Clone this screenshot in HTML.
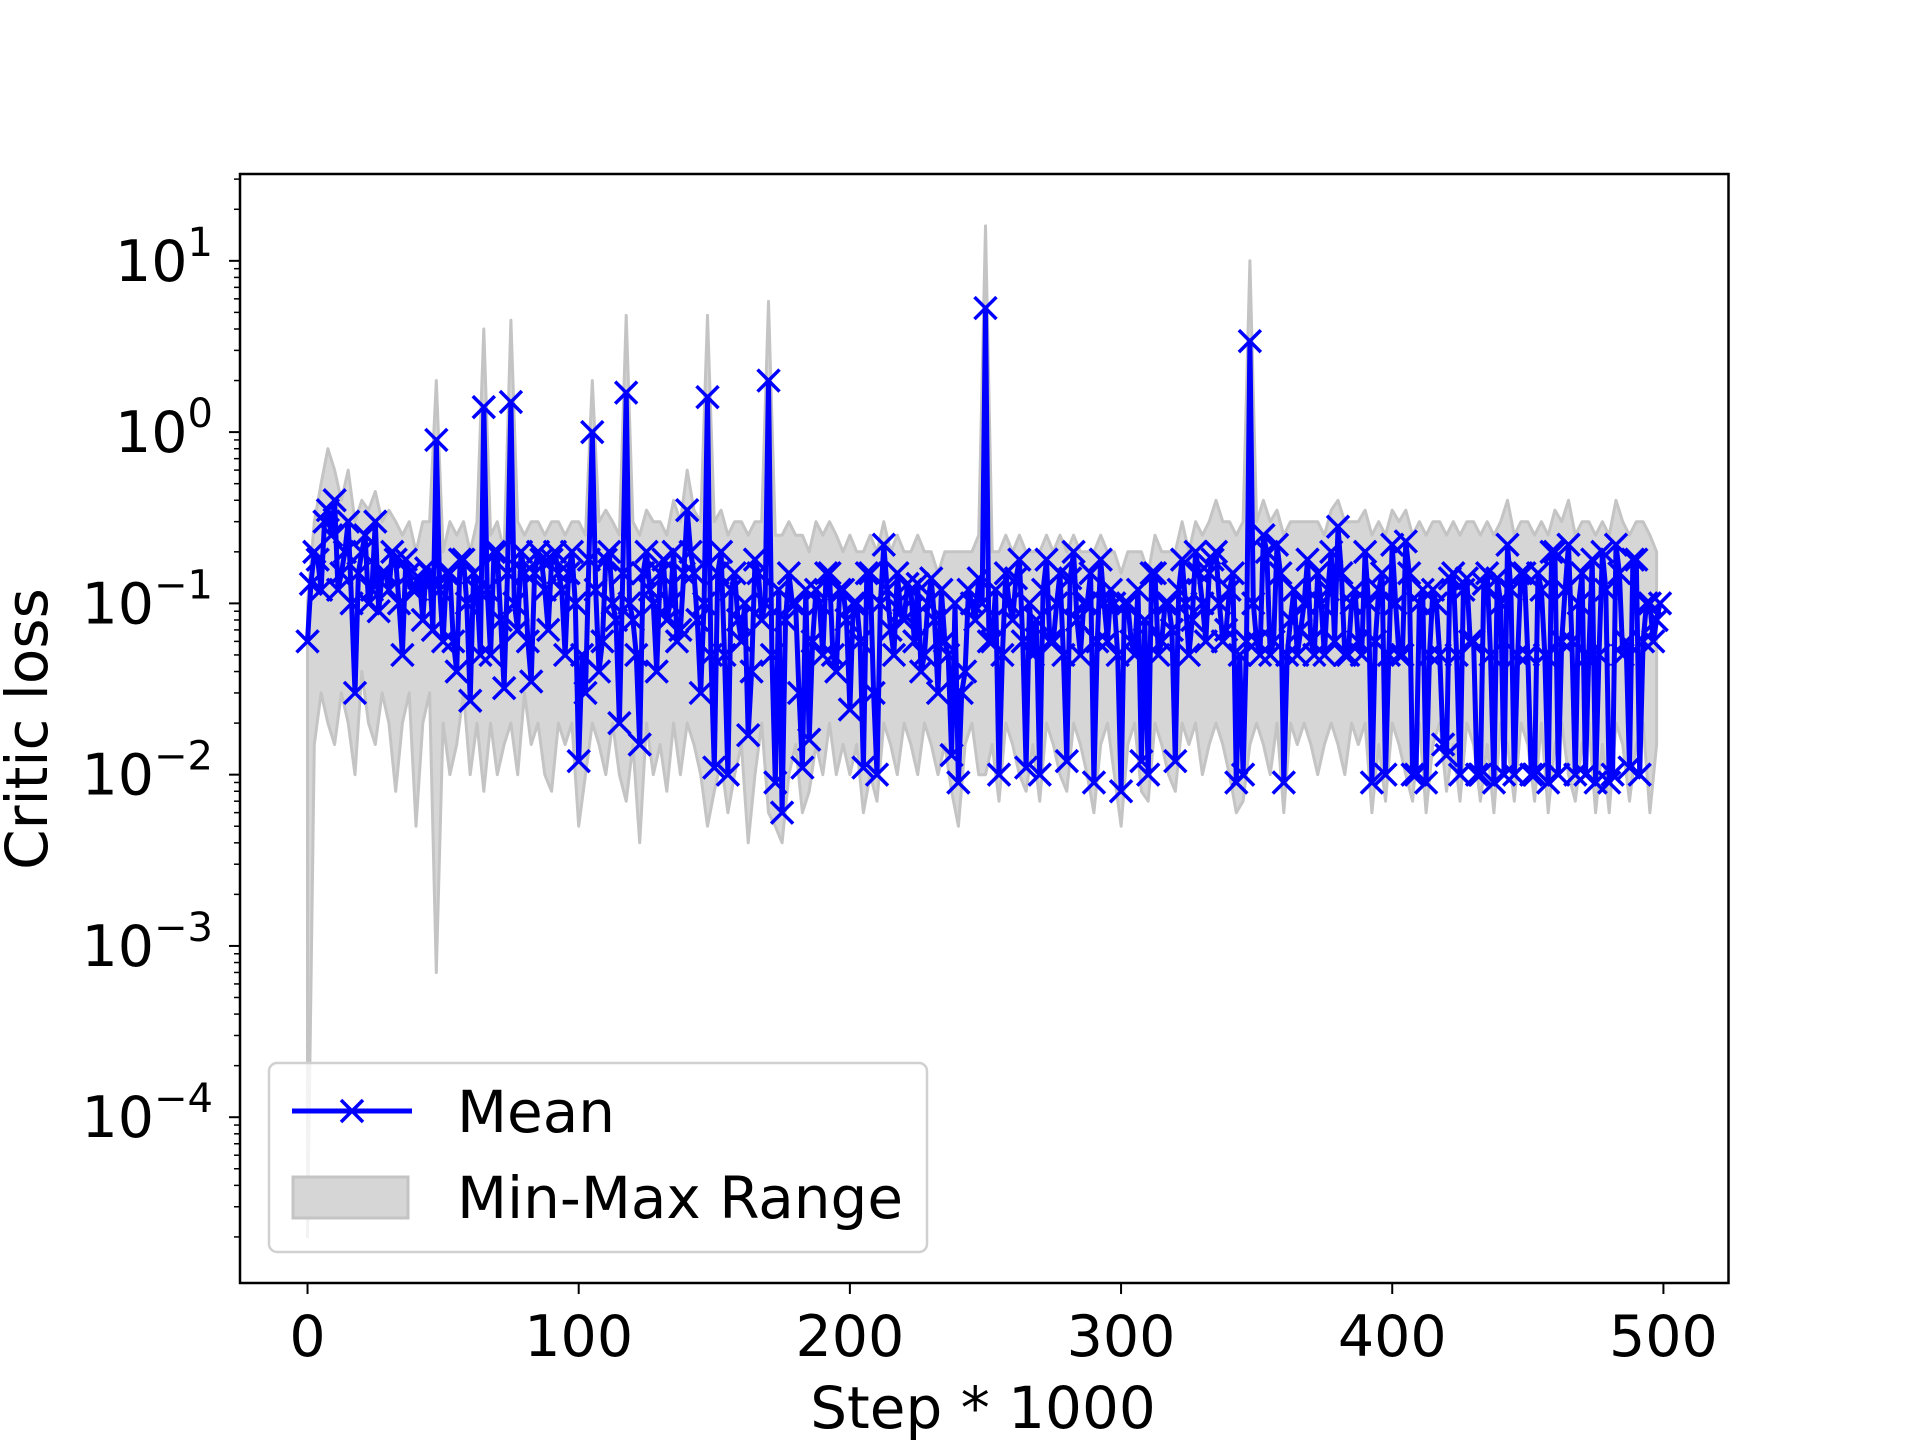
<!DOCTYPE html>
<html><head><meta charset="utf-8"><style>
html,body{margin:0;padding:0;background:#fff;}
svg{display:block;font-family:"DejaVu Sans","Liberation Sans",sans-serif;}
</style></head><body>
<svg id="chart" width="1920" height="1440" viewBox="0 0 1920 1440" xmlns="http://www.w3.org/2000/svg"></svg>
<script>
const meanVals=[0.06,0.2,0.12,0.35,0.4,0.15,0.3,0.03,0.2,0.1,0.3,0.15,0.12,0.18,0.05,0.15,
0.12,0.08,0.15,0.9,
0.06,0.15,0.04,0.18,0.027,0.12,1.4,0.05,0.2,0.032,
1.5,0.07,0.15,0.035,0.2,0.12,0.18,0.15,0.05,0.2,
0.012,0.03,1.0,0.04,0.18,0.1,0.02,1.7,0.08,0.015,
0.2,0.1,0.15,0.08,0.2,0.07,0.35,0.15,0.03,1.6,
0.011,0.2,0.01,0.15,0.06,0.017,0.18,0.08,2.0,0.009,
0.006,0.15,0.1,0.011,0.016,0.12,0.05,0.15,0.04,0.12,
0.024,0.1,0.011,0.15,0.01,0.22,0.07,0.15,0.08,0.12,
0.13,0.05,0.14,0.03,0.06,0.013,0.009,0.04,0.1,0.14,
5.3,0.06,0.01,0.15,0.08,0.18,0.011,0.05,0.01,0.18,
0.06,0.15,0.012,0.2,0.05,0.1,0.009,0.18,0.06,0.1,
0.008,0.1,0.05,0.012,0.01,0.15,0.06,0.1,0.012,0.18,
0.05,0.2,0.1,0.15,0.2,0.06,0.12,0.009,0.01,3.4,
0.06,0.25,0.05,0.22,0.009,0.08,0.05,0.1,0.06,0.15,
0.05,0.2,0.28,0.05,0.1,0.06,0.2,0.009,0.12,0.01,
0.22,0.05,0.23,0.01,0.1,0.009,0.12,0.05,0.013,0.15,
0.01,0.14,0.06,0.01,0.15,0.009,0.1,0.22,0.01,0.15,
0.05,0.01,0.12,0.009,0.2,0.06,0.22,0.01,0.15,0.05,
0.009,0.2,0.009,0.22,0.05,0.011,0.18,0.06,0.1,0.08];
const meanValsMid=[0.13,0.18,0.3,0.25,0.12,0.2,0.1,0.15,0.25,0.12,
0.09,0.15,0.2,0.1,0.18,0.12,0.14,0.16,0.07,0.12,
0.15,0.06,0.18,0.1,0.15,0.05,0.12,0.2,0.08,0.15,
0.1,0.2,0.06,0.15,0.18,0.07,0.2,0.12,0.15,0.1,
0.05,0.18,0.12,0.06,0.2,0.08,0.15,0.1,0.05,0.15,
0.12,0.04,0.18,0.1,0.06,0.15,0.2,0.08,0.1,0.05,
0.15,0.05,0.12,0.08,0.1,0.04,0.15,0.1,0.05,0.12,
0.08,0.1,0.03,0.12,0.06,0.1,0.15,0.05,0.12,0.08,
0.1,0.06,0.15,0.03,0.1,0.12,0.05,0.09,0.13,0.06,
0.04,0.1,0.08,0.12,0.05,0.1,0.03,0.12,0.08,0.1,
0.06,0.12,0.05,0.1,0.14,0.06,0.1,0.08,0.12,0.06,
0.1,0.05,0.14,0.08,0.1,0.15,0.06,0.1,0.12,0.05,
0.1,0.06,0.12,0.08,0.15,0.05,0.1,0.07,0.12,0.1,
0.08,0.15,0.06,0.18,0.1,0.07,0.15,0.05,0.06,0.1,
0.05,0.2,0.06,0.15,0.05,0.12,0.07,0.18,0.05,0.1,
0.12,0.06,0.15,0.05,0.12,0.05,0.1,0.06,0.15,0.05,
0.1,0.05,0.15,0.01,0.12,0.05,0.1,0.015,0.14,0.05,
0.12,0.06,0.01,0.13,0.05,0.14,0.01,0.12,0.05,0.15,
0.01,0.15,0.05,0.2,0.01,0.12,0.06,0.1,0.01,0.18,
0.05,0.12,0.01,0.15,0.06,0.18,0.01,0.1,0.06,0.1];
const minVals=[0.00002,0.015,0.03,0.02,0.015,0.03,0.02,0.01,0.04,0.02,0.015,0.03,0.02,0.008,0.02,0.03,
0.005,0.02,0.03,0.0007,
0.02,0.01,0.015,0.03,0.01,0.02,0.008,0.02,0.01,0.015,
0.02,0.01,0.03,0.015,0.02,0.01,0.008,0.02,0.015,0.02,
0.005,0.01,0.02,0.015,0.01,0.02,0.01,0.007,0.015,0.004,
0.02,0.01,0.015,0.008,0.02,0.01,0.02,0.015,0.01,0.005,
0.008,0.012,0.006,0.01,0.015,0.004,0.01,0.02,0.006,0.005,
0.004,0.01,0.015,0.006,0.008,0.015,0.01,0.02,0.01,0.015,
0.01,0.015,0.006,0.01,0.007,0.02,0.015,0.01,0.02,0.015,
0.01,0.02,0.015,0.01,0.015,0.008,0.005,0.015,0.02,0.01,
0.01,0.015,0.007,0.02,0.015,0.01,0.008,0.015,0.007,0.02,
0.015,0.01,0.008,0.02,0.015,0.01,0.006,0.015,0.02,0.01,
0.005,0.015,0.02,0.008,0.007,0.02,0.015,0.01,0.008,0.02,
0.015,0.02,0.01,0.015,0.02,0.015,0.01,0.006,0.007,0.015,
0.02,0.015,0.01,0.02,0.006,0.02,0.015,0.02,0.015,0.01,
0.015,0.02,0.015,0.01,0.02,0.015,0.02,0.006,0.015,0.007,
0.02,0.015,0.01,0.007,0.02,0.006,0.015,0.02,0.008,0.015,
0.007,0.02,0.015,0.007,0.015,0.006,0.02,0.015,0.007,0.02,
0.015,0.007,0.02,0.006,0.015,0.02,0.01,0.007,0.015,0.02,
0.006,0.015,0.006,0.02,0.015,0.007,0.015,0.02,0.006,0.015];
const maxVals=[0.1,0.3,0.5,0.8,0.6,0.4,0.6,0.3,0.4,0.35,0.45,0.3,0.35,0.3,0.25,0.3,
0.2,0.3,0.3,2.0,
0.2,0.3,0.25,0.3,0.2,0.3,4.0,0.25,0.3,0.2,
4.5,0.3,0.25,0.3,0.3,0.25,0.3,0.3,0.25,0.3,
0.3,0.25,2.0,0.3,0.35,0.3,0.25,4.8,0.3,0.25,
0.35,0.3,0.3,0.25,0.4,0.3,0.6,0.35,0.3,4.8,
0.3,0.35,0.25,0.3,0.3,0.25,0.3,0.3,5.8,0.25,
0.25,0.3,0.25,0.25,0.2,0.3,0.25,0.3,0.25,0.2,
0.25,0.2,0.2,0.25,0.2,0.3,0.2,0.25,0.2,0.2,
0.25,0.2,0.2,0.15,0.2,0.2,0.2,0.2,0.2,0.25,
16,0.2,0.2,0.25,0.2,0.25,0.2,0.2,0.2,0.25,
0.2,0.25,0.2,0.25,0.2,0.2,0.2,0.25,0.2,0.2,
0.15,0.2,0.2,0.2,0.15,0.25,0.2,0.2,0.2,0.3,
0.2,0.3,0.25,0.3,0.4,0.3,0.3,0.25,0.3,10,
0.3,0.4,0.3,0.35,0.25,0.3,0.3,0.3,0.3,0.3,
0.25,0.35,0.4,0.3,0.3,0.3,0.35,0.25,0.3,0.25,
0.35,0.3,0.35,0.25,0.3,0.25,0.3,0.3,0.25,0.3,
0.25,0.3,0.3,0.25,0.3,0.25,0.3,0.4,0.25,0.3,
0.3,0.25,0.3,0.25,0.35,0.3,0.4,0.25,0.3,0.3,
0.25,0.3,0.25,0.4,0.3,0.25,0.3,0.3,0.25,0.2];
const stepSize=2.5;
const xTicks=[0,100,200,300,400,500];
const yTickExps=[1,0,-1,-2,-3,-4];

const L=240,R=1728.5,T=174,B=1283;
const xMin=-24.9,xMax=524,yMinE=-4.968,yMaxE=1.507;
function xs(v){return L+(v-xMin)/(xMax-xMin)*(R-L);}
function ys(v){return B-(Math.log10(v)-yMinE)/(yMaxE-yMinE)*(B-T);}
const NS='http://www.w3.org/2000/svg';
const svg=document.getElementById('chart');
function mk(tag,attrs,parent){const e=document.createElementNS(NS,tag);for(const k in attrs)e.setAttribute(k,attrs[k]);(parent||svg).appendChild(e);return e;}

const clip=mk('clipPath',{id:'plotclip'});mk('rect',{x:L,y:T,width:R-L,height:B-T},clip);
const plot=mk('g',{'clip-path':'url(#plotclip)'});



let up='',dn='';
for(let i=0;i<maxVals.length;i++){up+=(i?'L':'M')+xs(i*stepSize).toFixed(1)+','+ys(maxVals[i]).toFixed(1);}
for(let i=minVals.length-1;i>=0;i--){dn+='L'+xs(i*stepSize).toFixed(1)+','+ys(minVals[i]).toFixed(1);}
const band=mk('path',{d:up+dn+'Z',fill:'#d6d6d6',stroke:'#c4c4c4','stroke-width':3,'stroke-linejoin':'round'},plot);



const meanX=[],meanY=[];
for(let i=0;i<meanVals.length;i++){
  meanX.push(i*stepSize);meanY.push(meanVals[i]);
  if(i<meanValsMid.length){meanX.push(i*stepSize+stepSize/2);meanY.push(meanValsMid[i]);}
}
let md='';
for(let i=0;i<meanX.length;i++){md+=(i?'L':'M')+xs(meanX[i]).toFixed(1)+','+ys(meanY[i]).toFixed(1);}
const ml=mk('path',{d:md,fill:'none',stroke:'#0000ff','stroke-width':5,'stroke-linejoin':'round'},plot);


const mg=mk('g',{stroke:'#0000ff','stroke-width':3.5},plot);


for(let i=0;i<meanX.length;i++){
  const cx=xs(meanX[i]),cy=ys(meanY[i]),s=11;
  const p=mk('path',{d:`M${cx-s},${cy-s}L${cx+s},${cy+s}M${cx-s},${cy+s}L${cx+s},${cy-s}`},mg);
  
  
}

const sp=mk('rect',{x:L,y:T,width:R-L,height:B-T,fill:'none',stroke:'#000','stroke-width':2.5});



for(const t of xTicks){
  const x=xs(t);
  const tk=mk('line',{x1:x,y1:B,x2:x,y2:B+11,stroke:'#000','stroke-width':2});
  
  
  const tx=mk('text',{x:x,y:1356,'font-size':57,'text-anchor':'middle',fill:'#000'});
  tx.textContent=t;
  
  
}
for(let e=-5;e<=1;e++){
  for(let m=1;m<10;m++){
    const v=m*Math.pow(10,e);const y=ys(v);
    if(y<T-0.5||y>B+0.5)continue;
    const tk=mk('line',{x1:L,y1:y,x2:L-(m===1?11:6),y2:y,stroke:'#000','stroke-width':m===1?2:1.5});
    
    
  }
}
for(const e of yTickExps){
  const y=ys(Math.pow(10,e));
  const tx=mk('text',{x:213,y:y+20,'font-size':57,'text-anchor':'end',fill:'#000'});
  const a=mk('tspan',{},tx);a.textContent='10';
  const b=mk('tspan',{dy:-25,'font-size':40},tx);b.textContent=(e<0?'\u2212':'')+Math.abs(e);
  
  
}
const xt=mk('text',{x:983,y:1428,'font-size':58,'text-anchor':'middle',fill:'#000'});
xt.textContent='Step * 1000';


const yt=mk('text',{x:0,y:0,'font-size':58,'text-anchor':'middle',fill:'#000',transform:'translate(47,729) rotate(-90)'});
yt.textContent='Critic loss';



const lg=mk('g',{});


mk('rect',{x:269,y:1063,width:658,height:189,rx:8,fill:'#fff','fill-opacity':0.8,stroke:'#d0d0d0','stroke-width':2.5},lg);
const le1=mk('g',{},lg);


mk('line',{x1:292,y1:1111,x2:412,y2:1111,stroke:'#0000ff','stroke-width':5},le1);
mk('path',{d:'M341,1100L363,1122M341,1122L363,1100',stroke:'#0000ff','stroke-width':3.5},le1);
const t1=mk('text',{x:457,y:1132,'font-size':58,fill:'#000'},le1);t1.textContent='Mean';
const le2=mk('g',{},lg);


mk('rect',{x:293,y:1177,width:115,height:41,fill:'#d6d6d6',stroke:'#c4c4c4','stroke-width':3},le2);
const t2=mk('text',{x:457,y:1218,'font-size':58,fill:'#000'},le2);t2.textContent='Min-Max Range';
</script>
</body></html>
